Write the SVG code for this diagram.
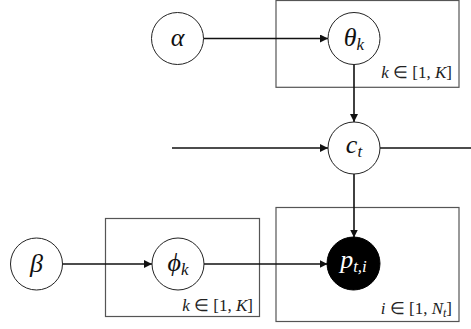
<svg xmlns="http://www.w3.org/2000/svg" width="471" height="329" viewBox="0 0 471 329">
<defs>
<marker id="ah" viewBox="0 0 10 10" refX="10" refY="5" markerWidth="8" markerHeight="8" markerUnits="userSpaceOnUse" orient="auto">
<path d="M0,0 L10,5 L0,10 z" fill="#111"/>
</marker>
<style>
.plate{fill:none;stroke:#555;stroke-width:1.2}
.node{fill:#fff;stroke:#222;stroke-width:1}
.obs{fill:#000;stroke:#000;stroke-width:1}
.edge{fill:none;stroke:#111;stroke-width:1.6}
.lbl{font-style:italic;font-size:26px;fill:#111}
.sub{font-size:17px}
.pl{font-size:17px;fill:#222}
.it{font-style:italic}
</style>
</defs>
<g id="plate-theta">
<rect class="plate" x="276" y="0.5" width="183" height="86.8"/>
<text class="pl" font-family="'Liberation Serif', serif" x="452" y="77.5" text-anchor="end"><tspan class="it">k</tspan> ∈ [1, <tspan class="it">K</tspan>]</text>
</g>
<g id="plate-phi">
<rect class="plate" x="105.5" y="218.5" width="154" height="98"/>
<text class="pl" font-family="'Liberation Serif', serif" x="253" y="311" text-anchor="end"><tspan class="it">k</tspan> ∈ [1, <tspan class="it">K</tspan>]</text>
</g>
<g id="plate-p">
<rect class="plate" x="276" y="207.5" width="183" height="114"/>
<text class="pl" font-family="'Liberation Serif', serif" x="452" y="314" text-anchor="end"><tspan class="it">i</tspan> ∈ [1, <tspan class="it">N</tspan><tspan class="it" font-size="12" dy="3">t</tspan><tspan dy="-3">]</tspan></text>
</g>
<g id="connectors">
<line class="edge" x1="203.5" y1="38.5" x2="328" y2="38.5" marker-end="url(#ah)"/>
<line class="edge" x1="354" y1="64.5" x2="354" y2="122" marker-end="url(#ah)"/>
<line class="edge" x1="172" y1="148" x2="328" y2="148" marker-end="url(#ah)"/>
<line class="edge" x1="380" y1="148" x2="471" y2="148"/>
<line class="edge" x1="354" y1="174" x2="354" y2="237.5" marker-end="url(#ah)"/>
<line class="edge" x1="62.5" y1="264" x2="152" y2="264" marker-end="url(#ah)"/>
<line class="edge" x1="204" y1="264" x2="327.5" y2="264" marker-end="url(#ah)"/>
</g>
<g id="node-alpha">
<circle class="node" cx="177.5" cy="38.5" r="26"/>
<text class="lbl" font-family="'Liberation Serif', serif" x="177.5" y="46" text-anchor="middle">α</text>
</g>
<g id="node-theta">
<circle class="node" cx="354" cy="38.5" r="26"/>
<text class="lbl" font-family="'Liberation Serif', serif" x="354" y="46" text-anchor="middle">θ<tspan class="sub" dy="4">k</tspan></text>
</g>
<g id="node-c">
<circle class="node" cx="354" cy="148" r="26"/>
<text class="lbl" font-family="'Liberation Serif', serif" x="354" y="153" text-anchor="middle">c<tspan class="sub" dy="4">t</tspan></text>
</g>
<g id="node-beta">
<circle class="node" cx="36.5" cy="264" r="26"/>
<text class="lbl" font-family="'Liberation Serif', serif" x="36.5" y="272" text-anchor="middle">β</text>
</g>
<g id="node-phi">
<circle class="node" cx="178" cy="264" r="26"/>
<text class="lbl" font-family="'Liberation Serif', serif" x="178" y="271" text-anchor="middle">ϕ<tspan class="sub" dy="4">k</tspan></text>
</g>
<g id="node-p">
<circle class="obs" cx="353.5" cy="263.5" r="26.5"/>
<text class="lbl" font-family="'Liberation Serif', serif" x="353.5" y="268" text-anchor="middle" style="fill:#fff">p<tspan class="sub" dy="4">t,i</tspan></text>
</g>
</svg>
